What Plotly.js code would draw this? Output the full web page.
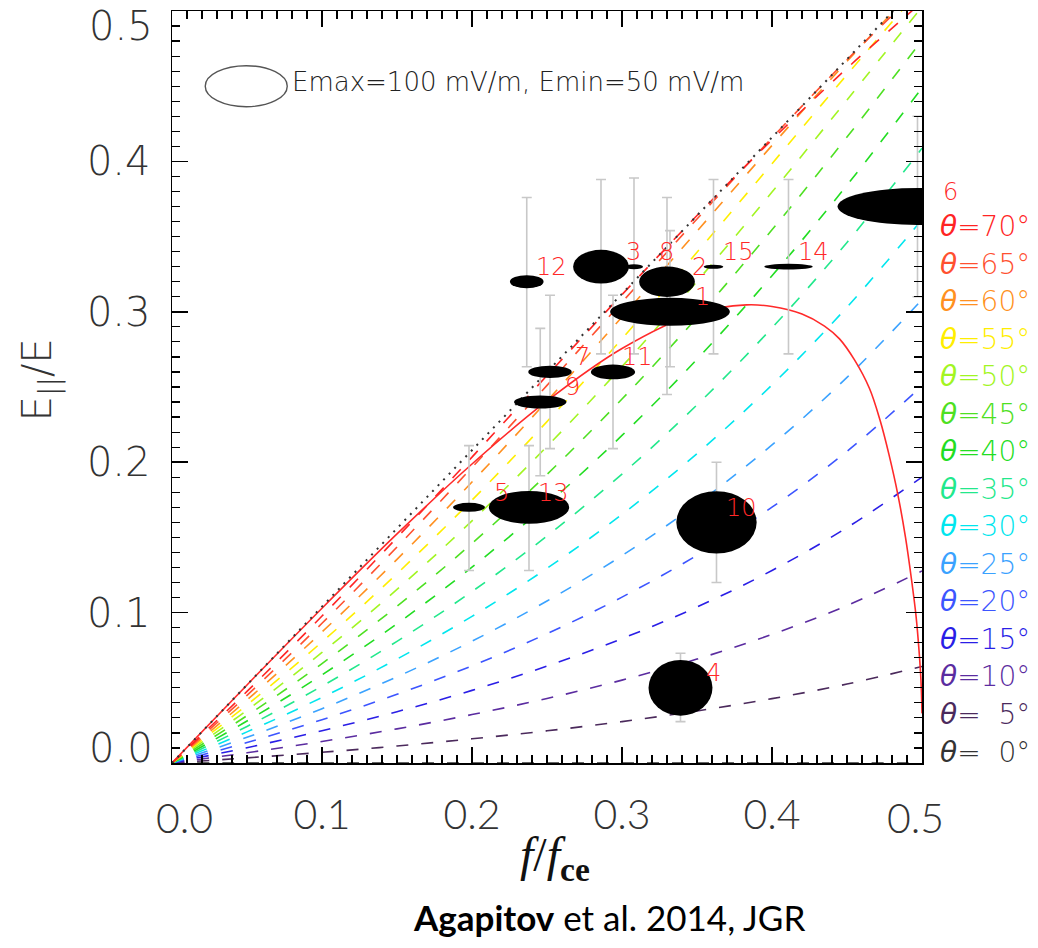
<!DOCTYPE html>
<html><head><meta charset="utf-8">
<script src="https://cdn.plot.ly/plotly-3.0.1.min.js"></script>
<style>html,body{margin:0;padding:0;background:#fff}#chart{width:1038px;height:948px}</style>
</head><body><div id="chart"></div>
<script>
// ---------- data ----------
const fGrid = [0, 0.05, 0.1, 0.15, 0.2, 0.25, 0.3, 0.35, 0.4, 0.45, 0.5];
const thetaAngles = [0, 5, 10, 15, 20, 25, 30, 35, 40, 45, 50, 55, 60, 65, 70];
const ratioTheta0  = [0, 0, 0, 0, 0, 0, 0, 0, 0, 0, 0];
const ratioTheta5  = [0, .0034, .0071, .0113, .0161, .0214, .0275, .0346, .0428, .0525, .0642];
const ratioTheta10 = [0, .0068, .0143, .0227, .0322, .0429, .0551, .0691, .0855, .1047, .1277];
const ratioTheta15 = [0, .0102, .0215, .0341, .0483, .0644, .0827, .1037, .1280, .1565, .1901];
const ratioTheta20 = [0, .0136, .0288, .0457, .0646, .0860, .1103, .1381, .1701, .2072, .2506];
const ratioTheta25 = [0, .0171, .0361, .0573, .0810, .1077, .1379, .1723, .2115, .2564, .3081];
const ratioTheta30 = [0, .0207, .0436, .0691, .0975, .1294, .1653, .2057, .2514, .3031, .3613];
const ratioTheta35 = [0, .0243, .0511, .0809, .1140, .1509, .1921, .2381, .2893, .3461, .4087];
const ratioTheta40 = [0, .0279, .0586, .0926, .1302, .1719, .2178, .2685, .3240, .3842, .4488];
const ratioTheta45 = [0, .0315, .0661, .1042, .1460, .1919, .2420, .2962, .3545, .4162, .4805];
const ratioTheta50 = [0, .0351, .0735, .1154, .1610, .2105, .2636, .3202, .3796, .4409, .5028];
const ratioTheta55 = [0, .0386, .0805, .1259, .1748, .2270, .2821, .3396, .3985, .4577, .5159];
const ratioTheta60 = [0, .0419, .0871, .1354, .1868, .2407, .2966, .3536, .4106, .4665, .5200];
const ratioTheta65 = [0, .0450, .0929, .1436, .1965, .2511, .3064, .3617, .4157, .4676, .5163];
const ratioTheta70 = [0, .0476, .0977, .1499, .2034, .2576, .3114, .3640, .4144, .4619, .5059];
const thetaRatios = [ratioTheta0, ratioTheta5, ratioTheta10, ratioTheta15, ratioTheta20, ratioTheta25,
  ratioTheta30, ratioTheta35, ratioTheta40, ratioTheta45, ratioTheta50, ratioTheta55,
  ratioTheta60, ratioTheta65, ratioTheta70];

// solid red curve
const gendrinF     = [0, .05, .1, .15, .2, .25, .3, .35, .383, .40, .42, .435, .445, .455, .465, .472, .478, .484, .489, .493, .496, .498, .4993, .5];
const gendrinRatio = [0, .0519, .1029, .1523, .1988, .2407, .2756, .2992, .3046, .3035, .2985, .2905, .282, .268, .249, .228, .205, .178, .150, .122, .098, .075, .055, .033];

// dotted limit line
const limitF = [0, 0.4808];
const limitRatio = [0, 0.5];

// events
const eventId    = [1, 2, 3, 4, 5, 6, 7, 8, 9, 10, 11, 12, 13, 14, 15];
const eventF     = [.332, .330, .286, .339, .198, .497, .252, .308, .2455, .363, .294, .2365, .238, .411, .361];
const eventRatio = [.300, .320, .330, .050, .170, .370, .260, .330, .240, .160, .260, .320, .170, .330, .330];
const eventHigh  = [.354, .376, .388, .073, .211, .430, .311, .389, .289, .200, .311, .376, .211, .388, .388];
const eventLow   = [.2635, .245, .272, .0275, .128, .310, .209, .272, .191, .120, .209, .2635, .128, .272, .272];
const eventEmax  = [146, 68, 68, 78, 39, 195, 53, 22, 64, 98, 54, 41, 98, 59, 24];
const eventEmin  = [34, 37, 41, 68, 11, 45, 15, 6, 16, 76, 18, 16, 40, 7, 5];

const legendEmax = 100, legendEmin = 50;

const xTickVals = [0.1, 0.2, 0.3, 0.4];
const yTickVals = [0.1, 0.2, 0.3, 0.4];

// ---------- styles ----------
const thetaColors = ['#333333', '#4b2a5c', '#5b2ca0', '#2a1ee6', '#3c55ff', '#3aa2ff', '#00e6ee',
  '#22e88c', '#22dd22', '#4ee022', '#a2f522', '#ffee00', '#ff9020', '#ff5030', '#ff2424'];
const W = 1038, H = 948;
const M = {l: 172, r: 116, t: 11, b: 185};
const plotW = W - M.l - M.r, plotH = H - M.t - M.b;
const xRange = [0, 0.5], yRange = [0, 0.5];
const pxPerMVm = 0.41;
const dxPerPx = (xRange[1] - xRange[0]) / plotW;
const dyPerPx = (yRange[1] - yRange[0]) / plotH;
const toPaperX = v => (v - xRange[0]) / (xRange[1] - xRange[0]);
const toPaperY = v => (v - yRange[0]) / (yRange[1] - yRange[0]);
const idlFont = 'DejaVu Sans, Liberation Sans, sans-serif';
const lightFont = 'Lato, Open Sans, sans-serif';

const traces = [];
thetaAngles.forEach((a, i) => {
  traces.push({
    x: fGrid, y: thetaRatios[i], type: 'scatter', mode: 'lines',
    line: {color: thetaColors[i], width: 1.6, dash: '12px,13px', shape: 'spline', smoothing: 1},
    hoverinfo: 'skip', showlegend: false
  });
});
traces.push({x: gendrinF, y: gendrinRatio, type: 'scatter', mode: 'lines',
  line: {color: '#ff2a2a', width: 1.6, shape: 'spline', smoothing: 1}, hoverinfo: 'skip', showlegend: false});
traces.push({x: limitF, y: limitRatio, type: 'scatter', mode: 'lines',
  line: {color: '#333333', width: 2, dash: '2px,6px'}, hoverinfo: 'skip', showlegend: false});
traces.push({x: eventF, y: eventRatio, type: 'scatter', mode: 'markers',
  marker: {size: 1, color: 'rgba(0,0,0,0)'},
  error_y: {type: 'data', symmetric: false,
    array: eventHigh.map((h, i) => h - eventRatio[i]),
    arrayminus: eventLow.map((l, i) => eventRatio[i] - l),
    color: '#c8c8c8', thickness: 1.6, width: 5},
  hoverinfo: 'skip', showlegend: false, cliponaxis: true});

const shapes = eventF.map((x, i) => {
  const rx = eventEmax[i] * pxPerMVm * dxPerPx, ry = eventEmin[i] * pxPerMVm * dyPerPx;
  return {type: 'circle', xref: 'x', yref: 'y', x0: x - rx, x1: x + rx,
    y0: eventRatio[i] - ry, y1: eventRatio[i] + ry, fillcolor: '#000', line: {width: 0}, layer: 'above'};
});
// legend ellipse
const legX = 0.0495, legY = 0.450;
const lrx = legendEmax * pxPerMVm * dxPerPx, lry = legendEmin * pxPerMVm * dyPerPx;
shapes.push({type: 'circle', xref: 'x', yref: 'y', x0: legX - lrx, x1: legX + lrx, y0: legY - lry, y1: legY + lry,
  line: {color: '#555', width: 1.4}, fillcolor: 'rgba(0,0,0,0)', layer: 'above'});

const annotations = [];
annotations.push({xref: 'x', yref: 'y', x: legX + lrx + 0.0015, y: legY + 0.003, xanchor: 'left', yanchor: 'middle',
  text: 'Emax=' + legendEmax + ' mV/m, Emin=' + legendEmin + ' mV/m', showarrow: false,
  font: {family: idlFont, size: 26, color: '#222', weight: 200}});
eventId.forEach((id, i) => {
  annotations.push({xref: 'paper', yref: 'paper', x: toPaperX(eventF[i] + 0.028), y: toPaperY(eventRatio[i] + 0.0098),
    xanchor: 'right', yanchor: 'middle', text: String(id), showarrow: false,
    font: {family: idlFont, size: 24, color: '#ff2828', weight: 200}});
});
// theta labels on the right
const labelTop = 0.3566, labelStep = 0.02495;
thetaAngles.slice().reverse().forEach((a, k) => {
  const idx = thetaAngles.indexOf(a);
  annotations.push({xref: 'paper', yref: 'paper', x: 1.0213, y: toPaperY(labelTop - k * labelStep),
    xanchor: 'left', yanchor: 'middle', showarrow: false,
    text: '<i>θ</i>=' + (a < 10 ? '\u2007' : '') + a + '°',
    font: {family: idlFont, size: 28, color: thetaColors[idx], weight: 200}});
});
// end tick labels
annotations.push({xref: 'paper', yref: 'paper', x: -0.0227, y: 0.980, xanchor: 'right', yanchor: 'middle',
  text: '0.5', showarrow: false, font: {family: idlFont, size: 40, color: '#333', weight: 200}});
annotations.push({xref: 'paper', yref: 'paper', x: -0.0227, y: 0.0199, xanchor: 'right', yanchor: 'middle',
  text: '0.0', showarrow: false, font: {family: idlFont, size: 40, color: '#333', weight: 200}});
annotations.push({xref: 'paper', yref: 'paper', x: 0.0173, y: -0.073, xanchor: 'center', yanchor: 'middle',
  text: '0.0', showarrow: false, font: {family: lightFont, size: 41, color: '#333', weight: 300}});
annotations.push({xref: 'paper', yref: 'paper', x: 0.9907, y: -0.073, xanchor: 'center', yanchor: 'middle',
  text: '0.5', showarrow: false, font: {family: lightFont, size: 41, color: '#333', weight: 300}});
// axis titles and caption
annotations.push({xref: 'paper', yref: 'paper', x: -0.176, y: 0.509, xanchor: 'center', yanchor: 'middle',
  textangle: -90, text: 'E<sub>||</sub>/E', showarrow: false, font: {family: idlFont, size: 40, color: '#333', weight: 200}});
annotations.push({xref: 'paper', yref: 'paper', x: 0.511, y: -0.126, xanchor: 'center', yanchor: 'middle',
  text: '<i>f</i>/<i>f</i><sub><b>ce</b></sub>', showarrow: false, font: {family: 'Liberation Serif, serif', size: 48, color: '#111'}});
annotations.push({xref: 'paper', yref: 'paper', x: 0.583, y: -0.205, xanchor: 'center', yanchor: 'middle',
  text: '<b>Agapitov</b> et al. 2014, JGR', showarrow: false, font: {family: 'Lato, Carlito, sans-serif', size: 35, color: '#000'}});

const axisCommon = {range: [0, 0.5], showgrid: false, zeroline: false, showline: true, linecolor: '#000', linewidth: 1.5,
  mirror: 'ticks', ticks: 'inside', ticklen: 16, tickwidth: 1.5, tickcolor: '#000', tickmode: 'array',
  minor: {ticks: 'inside', ticklen: 8, tickwidth: 1.2, tickcolor: '#000', tick0: 0, dtick: 0.01, showgrid: false},
  fixedrange: true};

const layout = {
  width: W, height: H, margin: M, paper_bgcolor: '#fff', plot_bgcolor: '#fff', showlegend: false,
  xaxis: Object.assign({}, axisCommon, {tickvals: xTickVals, ticktext: xTickVals.map(v => v.toFixed(1)),
    tickfont: {family: lightFont, size: 41, color: '#333', weight: 300}, ticklabelstandoff: 15}),
  yaxis: Object.assign({}, axisCommon, {tickvals: yTickVals, ticktext: yTickVals.map(v => v.toFixed(1)),
    tickfont: {family: idlFont, size: 40, color: '#333', weight: 200}, ticklabelstandoff: 12}),
  shapes: shapes, annotations: annotations
};
Plotly.newPlot('chart', traces, layout, {displayModeBar: false, staticPlot: true});
</script></body></html>
